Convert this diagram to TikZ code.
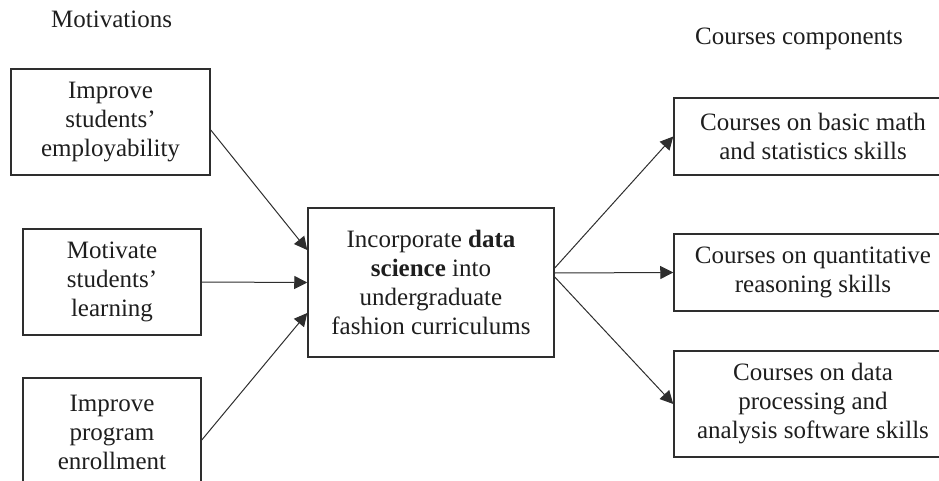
\documentclass[tikz,border=0pt]{standalone}
\usepackage{fontspec}
\setmainfont{Liberation Serif}
\usetikzlibrary{arrows.meta}
\definecolor{ln}{HTML}{2E2E2E}
\definecolor{tx}{HTML}{1E1E1E}
\begin{document}
\begin{tikzpicture}[x=1pt,y=-1pt,
  box/.style={draw=ln,line width=1.5pt,inner sep=0pt,align=center,text=tx,
    font=\fontsize{25}{29}\selectfont},
  conn/.style={draw=ln,line width=1pt,-{Triangle[length=13pt,width=13pt]}},
  ttl/.style={anchor=base west,inner sep=0pt,text=tx,font=\fontsize{25}{29}\selectfont}]
\useasboundingbox (0,0) rectangle (939,481);
\clip (0,0) rectangle (939,481);
\node[ttl] (t1) at (51,28) {Motivations};
\node[ttl] (t2) at (695,45) {Courses components};
\node[box,minimum width=199pt,minimum height=106pt] (b1) at (110.5,122) {Improve\\students'\\employability};
\node[box,minimum width=178pt,minimum height=106pt] (b2) at (112,282) {Motivate\\students'\\learning};
\node[box,minimum width=178pt,minimum height=108pt] (b3) at (112,432) {Improve\\program\\enrollment};
\node[box,minimum width=246pt,minimum height=149pt] (c) at (431,282.5) {Incorporate \textbf{data}\\\textbf{science} into\\undergraduate\\fashion curriculums};
\node[box,minimum width=278pt,minimum height=77pt] (r1) at (813,136.5) {Courses on basic math\\and statistics skills};
\node[box,minimum width=278pt,minimum height=77pt] (r2) at (813,272.5) {Courses on quantitative\\reasoning skills};
\node[box,minimum width=278pt,minimum height=106pt] (r3) at (813,404) {Courses on data\\processing and\\analysis software skills};
\draw[conn] ([yshift=-8pt]b1.east) -- ([yshift=32.5pt]c.west);
\draw[conn] (b2.east) -- (c.west);
\draw[conn] ([yshift=-8pt]b3.east) -- ([yshift=-30.5pt]c.west);
\draw[conn] ([yshift=14.5pt]c.east) -- (r1.west);
\draw[conn] ([yshift=9.5pt]c.east) -- (r2.west);
\draw[conn] ([yshift=5.5pt]c.east) -- (r3.west);
\end{tikzpicture}
\end{document}
